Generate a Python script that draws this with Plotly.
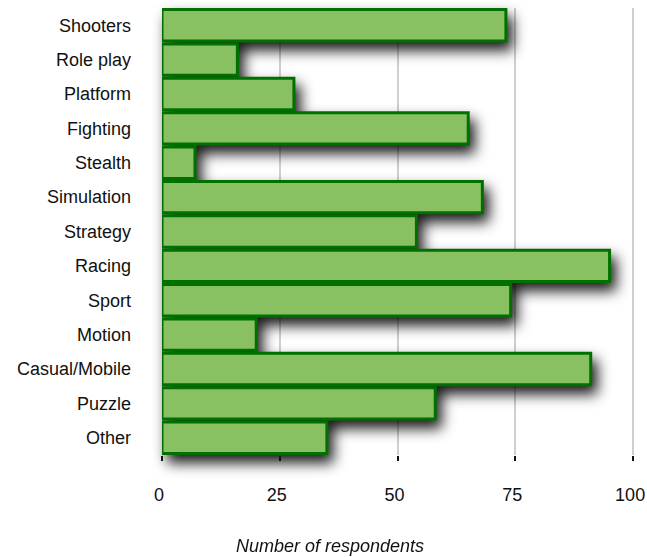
import plotly.graph_objects as go

# Survey results: favourite game genres
genres = ["Shooters", "Role play", "Platform", "Fighting", "Stealth", "Simulation",
          "Strategy", "Racing", "Sport", "Motion", "Casual/Mobile", "Puzzle", "Other"]
respondents = [73, 16, 28, 65, 7, 68, 54, 95, 74, 20, 91, 58, 35]
x_ticks = [0, 25, 50, 75, 100]

FONT = "Liberation Sans, Arial, Helvetica, sans-serif"

fig = go.Figure(
    go.Bar(
        x=respondents,
        y=genres,
        orientation="h",
        marker=dict(color="#89c062", line=dict(color="#007100", width=3)),
        cliponaxis=False,
        hoverinfo="skip",
    )
)

fig.update_layout(
    width=647,
    height=557,
    margin=dict(l=162, r=12, t=8, b=102),
    paper_bgcolor="white",
    plot_bgcolor="white",
    bargap=0.087,
    showlegend=False,
    font=dict(family=FONT, size=18, color="#111111"),
    xaxis=dict(
        range=[0, 100.4],
        tickvals=x_ticks,
        ticktext=[str(v) for v in x_ticks],
        showgrid=True,
        gridcolor="#cfcfcf",
        gridwidth=2,
        zeroline=False,
        showline=False,
        ticks="outside",
        ticklen=5,
        tickwidth=2,
        tickcolor="#111111",
        ticklabelstandoff=18,
        ticklabelshift=-3,
        ticklabeloverflow="allow",
        automargin=False,
        fixedrange=True,
    ),
    yaxis=dict(
        autorange="reversed",
        showgrid=False,
        zeroline=False,
        showline=False,
        ticks="",
        ticklabelstandoff=30,
        automargin=False,
        fixedrange=True,
    ),
    annotations=[
        dict(
            text="<i>Number of respondents</i>",
            xref="paper", yref="paper",
            x=0.355, y=-0.203,
            xanchor="center", yanchor="middle",
            showarrow=False,
            font=dict(family=FONT, size=18, color="#111111"),
        )
    ],
)

# soft drop shadow cast by the whole group of bars
shadow_js = (
    "var s=document.createElement('style');"
    "s.textContent='.barlayer .trace{filter:drop-shadow(5px 8px 7px rgba(0,0,0,0.9));}';"
    "document.head.appendChild(s);"
)

fig.write_html("out.html", post_script=shadow_js, config={"displayModeBar": False})
